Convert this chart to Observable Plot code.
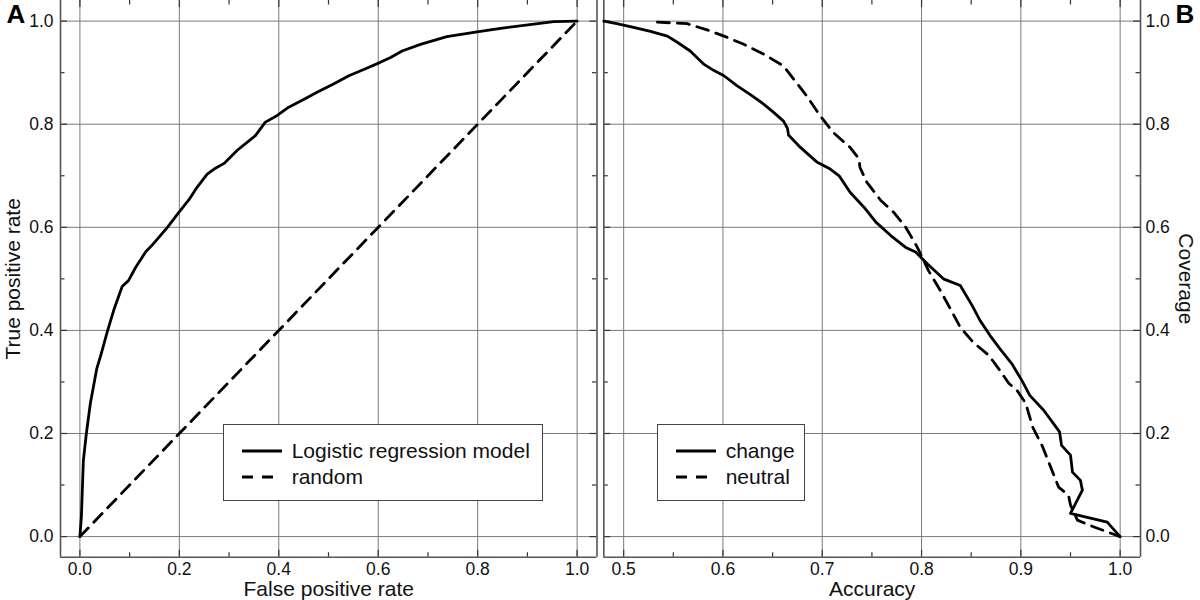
<!DOCTYPE html>
<html><head><meta charset="utf-8">
<script src="https://cdn.jsdelivr.net/npm/d3@7"></script>
<script src="https://cdn.jsdelivr.net/npm/@observablehq/plot@0.6"></script>
<style>
body{margin:0;background:#fff;}
#wrap{position:relative;width:1200px;height:600px;overflow:hidden;font-family:"Liberation Sans",Arial,sans-serif;color:#111;}
.panel{position:absolute;top:0;}
.legend{position:absolute;background:#fff;border:1.3px solid #444;box-sizing:border-box;font-size:21px;color:#111;}
.legend svg{position:absolute;}
.legend span{position:absolute;line-height:26px;white-space:nowrap;}
</style></head>
<body><div id="wrap"></div>
<script>
// ---- Panel A: ROC curve ----
const rocFpr = [0,0.003,0.007,0.013,0.021,0.034,0.043,0.055,0.068,0.085,0.098,0.112,0.132,0.145,0.176,0.199,0.219,0.236,0.256,0.27,0.29,0.316,0.353,0.363,0.373,0.397,0.42,0.45,0.477,0.51,0.541,0.578,0.604,0.624,0.648,0.685,0.738,0.799,0.846,0.913,0.953,1];
const rocTpr = [0,0.038,0.148,0.2,0.258,0.326,0.355,0.397,0.439,0.485,0.497,0.522,0.552,0.565,0.6,0.629,0.653,0.678,0.703,0.713,0.724,0.749,0.778,0.791,0.804,0.817,0.833,0.848,0.862,0.878,0.894,0.909,0.92,0.929,0.942,0.955,0.97,0.979,0.986,0.994,0.999,1];
const randomFpr = [0,1];
const randomTpr = [0,1];

// ---- Panel B: accuracy vs coverage ----
const changeAcc = [0.48,0.493,0.51,0.527,0.544,0.554,0.567,0.574,0.581,0.591,0.601,0.614,0.628,0.641,0.651,0.661,0.665,0.666,0.678,0.695,0.708,0.717,0.728,0.742,0.754,0.769,0.784,0.794,0.806,0.822,0.839,0.851,0.859,0.869,0.879,0.891,0.901,0.909,0.923,0.939,0.941,0.95,0.952,0.96,0.962,0.95,0.987,1.0];
const changeCov = [1.0,0.995,0.988,0.98,0.971,0.959,0.942,0.929,0.916,0.904,0.894,0.875,0.857,0.839,0.823,0.806,0.792,0.779,0.755,0.726,0.713,0.7,0.668,0.639,0.61,0.584,0.561,0.552,0.529,0.5,0.487,0.448,0.419,0.39,0.364,0.335,0.303,0.274,0.245,0.203,0.177,0.158,0.125,0.109,0.09,0.045,0.028,0.0];
const neutralAcc = [0.534,0.564,0.584,0.601,0.621,0.641,0.661,0.671,0.685,0.698,0.711,0.728,0.737,0.738,0.745,0.759,0.772,0.784,0.795,0.807,0.819,0.829,0.839,0.852,0.868,0.879,0.888,0.896,0.905,0.912,0.922,0.93,0.938,0.948,0.95,0.957,0.973,1.0];
const neutralCov = [0.998,0.995,0.983,0.971,0.955,0.936,0.913,0.888,0.853,0.816,0.784,0.755,0.733,0.716,0.687,0.652,0.629,0.6,0.564,0.516,0.477,0.442,0.406,0.377,0.351,0.322,0.297,0.284,0.258,0.212,0.174,0.135,0.096,0.08,0.061,0.032,0.019,0.0];

// ---- Ticks and labels ----
const yMajor = [0,0.2,0.4,0.6,0.8,1.0];
const yMinor = [0.1,0.3,0.5,0.7,0.9];
const axMajor = [0,0.2,0.4,0.6,0.8,1.0];
const axMinor = [0.1,0.3,0.5,0.7,0.9];
const bxMajor = [0.5,0.6,0.7,0.8,0.9,1.0];
const bxMinor = [0.55,0.65,0.75,0.85,0.95];
const legendA = ["Logistic regression model","random"];
const legendB = ["change","neutral"];

const zip = (xs, ys) => xs.map((x, i) => ({x, y: ys[i]}));

const W = 600, H = 600, MT = 0, MB = 43.3;
const yDomain = [-0.04, 1.04];

function panel({xDomain, ml, mr, xMajor, xMinor, lines, yAxis, xLabel, yLabel, letter}) {
  const fw = W - ml - mr, fh = H - MT - MB;
  const majorLen = 7, minorLen = 4.5;
  const tickStroke = "#333";
  const marks = [
    // grid
    Plot.ruleX(xMajor, {x: d => d, stroke: "#7a7a7a", strokeWidth: 1}),
    Plot.ruleY(yMajor, {y: d => d, stroke: "#7a7a7a", strokeWidth: 1}),
    // ticks: left, right, bottom, top
    Plot.tickY(yMajor, {y: d => d, insetRight: fw - majorLen, stroke: tickStroke, strokeWidth: 1.2}),
    Plot.tickY(yMinor, {y: d => d, insetRight: fw - minorLen, stroke: tickStroke, strokeWidth: 1.2}),
    Plot.tickY(yMajor, {y: d => d, insetLeft: fw - majorLen, stroke: tickStroke, strokeWidth: 1.2}),
    Plot.tickY(yMinor, {y: d => d, insetLeft: fw - minorLen, stroke: tickStroke, strokeWidth: 1.2}),
    Plot.tickX(xMajor, {x: d => d, insetTop: fh - majorLen, stroke: tickStroke, strokeWidth: 1.2}),
    Plot.tickX(xMinor, {x: d => d, insetTop: fh - minorLen, stroke: tickStroke, strokeWidth: 1.2}),
    Plot.tickX(xMajor, {x: d => d, insetBottom: fh - majorLen, stroke: tickStroke, strokeWidth: 1.2}),
    Plot.tickX(xMinor, {x: d => d, insetBottom: fh - minorLen, stroke: tickStroke, strokeWidth: 1.2}),
    // frame (left, right, bottom)
    Plot.ruleX([xDomain[0], xDomain[1]], {x: d => d, stroke: "#555", strokeWidth: 1.6}),
    Plot.ruleY([yDomain[0]], {y: d => d, stroke: "#555", strokeWidth: 1.6}),
    // data
    ...lines.map(l => Plot.line(l.data, {x: "x", y: "y", stroke: "#000", strokeWidth: 2.8, strokeLinejoin: "round", strokeDasharray: l.dash ? "12,8" : null})),
    // axis titles
    Plot.text([xLabel], {text: d => d, frameAnchor: "bottom", dy: 32.5, textAnchor: "middle", lineAnchor: "middle", fontSize: 21, fill: "#111"}),
    yAxis === "left"
      ? Plot.text([yLabel], {text: d => d, frameAnchor: "left", dx: -47, rotate: -90, textAnchor: "middle", lineAnchor: "middle", fontSize: 21, fill: "#111"})
      : Plot.text([yLabel], {text: d => d, frameAnchor: "right", dx: 45, rotate: 90, textAnchor: "middle", lineAnchor: "middle", fontSize: 21, fill: "#111"}),
    yAxis === "left"
      ? Plot.text([letter], {text: d => d, frameAnchor: "top-left", dx: -54, dy: 4, textAnchor: "start", lineAnchor: "top", fontSize: 26, fontWeight: "bold", fill: "#000"})
      : Plot.text([letter], {text: d => d, frameAnchor: "top-right", dx: 35, dy: 4, textAnchor: "start", lineAnchor: "top", fontSize: 26, fontWeight: "bold", fill: "#000"})
  ];
  return Plot.plot({
    width: W, height: H,
    marginLeft: ml, marginRight: mr, marginTop: MT, marginBottom: MB,
    style: {fontSize: "17.5px", fontFamily: '"Liberation Sans", Arial, sans-serif', color: "#111", background: "transparent", overflow: "visible"},
    x: {domain: xDomain, ticks: xMajor, tickFormat: d3.format(".1f"), tickSize: 0, tickPadding: 5, label: null},
    y: {domain: yDomain, ticks: yMajor, tickFormat: d3.format(".1f"), tickSize: 0, tickPadding: yAxis === "left" ? 7 : 5, label: null, axis: yAxis},
    marks
  });
}

const wrap = document.getElementById("wrap");

const pA = panel({
  xDomain: [-0.039, 1.04], ml: 60, mr: 3.5, xMajor: axMajor, xMinor: axMinor,
  lines: [{data: zip(rocFpr, rocTpr), dash: false}, {data: zip(randomFpr, randomTpr), dash: true}],
  yAxis: "left", xLabel: "False positive rate", yLabel: "True positive rate", letter: "A"
});
const pB = panel({
  xDomain: [0.48, 1.0205], ml: 3.3, mr: 60, xMajor: bxMajor, xMinor: bxMinor,
  lines: [{data: zip(changeAcc, changeCov), dash: false}, {data: zip(neutralAcc, neutralCov), dash: true}],
  yAxis: "right", xLabel: "Accuracy", yLabel: "Coverage", letter: "B"
});

const dA = document.createElement("div"); dA.className = "panel"; dA.style.left = "0px"; dA.appendChild(pA); wrap.appendChild(dA);
const dB = document.createElement("div"); dB.className = "panel"; dB.style.left = "600px"; dB.appendChild(pB); wrap.appendChild(dB);

function legend(labels, left, top, width, height) {
  const box = document.createElement("div");
  box.className = "legend";
  Object.assign(box.style, {left: left + "px", top: top + "px", width: width + "px", height: height + "px"});
  labels.forEach((lab, i) => {
    const cy = 26 + i * 26;
    const svg = document.createElementNS("http://www.w3.org/2000/svg", "svg");
    svg.setAttribute("width", 42); svg.setAttribute("height", 6);
    svg.style.left = "18px"; svg.style.top = (cy - 3) + "px";
    const ln = document.createElementNS("http://www.w3.org/2000/svg", "line");
    ln.setAttribute("x1", 0); ln.setAttribute("x2", 40); ln.setAttribute("y1", 3); ln.setAttribute("y2", 3);
    ln.setAttribute("stroke", "#000"); ln.setAttribute("stroke-width", 2.8);
    if (i === 1) ln.setAttribute("stroke-dasharray", "11,9");
    svg.appendChild(ln);
    box.appendChild(svg);
    const sp = document.createElement("span");
    sp.textContent = lab;
    sp.style.left = "68px"; sp.style.top = (cy - 13) + "px";
    box.appendChild(sp);
  });
  wrap.appendChild(box);
}
legend(legendA, 222.7, 424, 320, 77);
legend(legendB, 656.7, 424, 148, 77);
</script>
</body></html>
